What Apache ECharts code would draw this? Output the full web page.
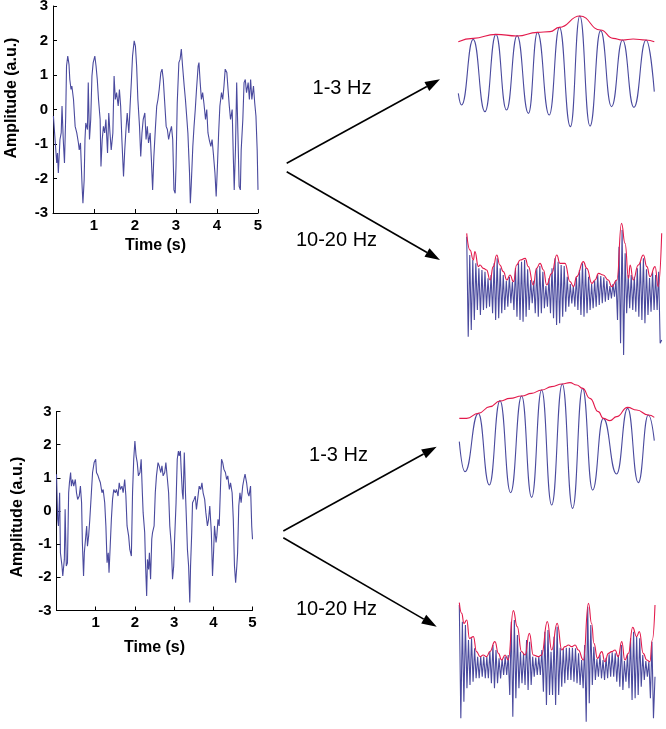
<!DOCTYPE html>
<html>
<head>
<meta charset="utf-8">
<script src="https://cdn.jsdelivr.net/npm/echarts@6/dist/echarts.min.js"></script>
<style>
html,body{margin:0;padding:0;background:#fff;}
#chart{width:666px;height:729px;}
</style>
</head>
<body>
<div id="chart"></div>
<script>
// ---------- tick labels ----------
const yTicks = [-3, -2, -1, 0, 1, 2, 3];
const xTicks = [1, 2, 3, 4, 5];
const bandLabels = ['1-3 Hz', '10-20 Hz'];

// ---------- row 1: raw signal ----------
const row1Time = [0.01,0.05,0.09,0.11,0.13,0.15,0.17,0.20,0.22,0.25,0.28,0.31,0.33,0.36,0.39,0.41,0.44,0.46,0.50,0.54,0.58,0.62,0.64,0.67,0.71,0.73,0.76,0.78,0.80,0.84,0.86,0.89,0.92,0.95,0.98,1.02,1.05,1.08,1.11,1.15,1.17,1.20,1.23,1.26,1.29,1.33,1.36,1.39,1.42,1.46,1.49,1.52,1.55,1.59,1.62,1.65,1.68,1.72,1.75,1.78,1.81,1.85,1.88,1.91,1.94,1.98,2.01,2.04,2.07,2.11,2.14,2.17,2.20,2.24,2.27,2.30,2.33,2.37,2.40,2.43,2.46,2.50,2.53,2.56,2.59,2.63,2.66,2.69,2.72,2.76,2.79,2.82,2.85,2.89,2.92,2.95,2.98,3.00,3.03,3.07,3.10,3.13,3.16,3.20,3.23,3.26,3.29,3.33,3.35,3.37,3.41,3.44,3.47,3.50,3.54,3.56,3.59,3.62,3.65,3.68,3.72,3.75,3.78,3.81,3.85,3.88,3.91,3.95,3.98,4.01,4.04,4.07,4.11,4.14,4.17,4.20,4.24,4.27,4.30,4.33,4.37,4.40,4.42,4.45,4.48,4.51,4.54,4.57,4.59,4.63,4.66,4.69,4.72,4.76,4.79,4.82,4.85,4.89,4.92,4.95,4.98,5.00];
const row1Amp = [-0.19,-0.87,-1.55,-1.26,-1.84,-1.36,-0.87,-0.68,0.10,-0.87,-1.55,-0.19,1.26,1.55,1.31,0.87,0.58,0.68,0.29,-0.49,-0.68,-0.97,-1.17,-0.97,-2.23,-2.72,-2.04,-0.87,-0.39,-0.58,0.78,-0.87,-0.29,0.97,1.36,1.55,1.26,0.87,0.29,-0.29,-1.65,-0.87,-0.49,-0.68,-0.29,-1.26,-0.10,-0.68,-1.17,-0.68,0.97,0.29,0.49,0.10,0.58,0.10,-0.87,-1.94,-1.17,-0.58,-0.10,-0.68,0.10,0.78,1.55,1.99,1.84,1.26,0.29,-0.49,-1.36,-0.68,-0.29,-0.10,-0.87,-0.49,-0.97,-0.68,-1.46,-2.33,-1.36,-0.49,0.10,0.29,0.58,1.07,1.17,0.87,0.29,-0.49,-0.58,-0.87,-0.68,-0.49,-0.87,-2.33,-2.43,-1.65,0.19,1.36,1.46,1.75,1.26,0.68,0.29,-0.19,-0.68,-1.84,-2.72,-2.23,-1.07,-0.49,0.00,0.58,1.26,1.36,0.78,0.29,0.49,0.19,-0.29,0.00,-0.68,-0.87,-1.07,-0.87,-1.26,-1.84,-2.52,-1.65,-0.68,0.10,0.49,0.29,0.68,1.17,1.07,0.58,0.10,-0.29,0.00,-1.46,-2.33,-1.17,0.78,-0.68,-2.23,-2.33,-1.17,-0.29,0.78,0.87,0.49,0.78,0.29,0.87,0.29,0.68,0.19,-0.19,-1.17,-2.33];

// ---------- row 2: raw signal ----------
const row2Time = [0.00,0.03,0.05,0.08,0.10,0.14,0.16,0.20,0.22,0.25,0.28,0.31,0.33,0.36,0.38,0.41,0.44,0.48,0.51,0.54,0.58,0.61,0.64,0.66,0.69,0.71,0.74,0.77,0.79,0.82,0.85,0.89,0.92,0.96,1.00,1.02,1.06,1.09,1.12,1.16,1.19,1.23,1.26,1.29,1.32,1.34,1.37,1.40,1.43,1.46,1.50,1.53,1.57,1.60,1.63,1.67,1.70,1.74,1.77,1.80,1.84,1.87,1.91,1.94,1.97,2.00,2.03,2.06,2.09,2.13,2.16,2.19,2.21,2.25,2.27,2.30,2.32,2.35,2.37,2.40,2.43,2.45,2.49,2.52,2.55,2.59,2.62,2.66,2.69,2.72,2.76,2.79,2.83,2.86,2.89,2.93,2.96,2.99,3.01,3.05,3.08,3.11,3.13,3.16,3.18,3.21,3.23,3.26,3.29,3.32,3.34,3.37,3.40,3.42,3.45,3.47,3.51,3.54,3.57,3.61,3.64,3.68,3.71,3.74,3.78,3.81,3.85,3.88,3.91,3.95,3.98,4.01,4.03,4.07,4.09,4.12,4.15,4.19,4.21,4.24,4.27,4.31,4.34,4.37,4.41,4.44,4.48,4.51,4.54,4.57,4.60,4.62,4.65,4.68,4.71,4.75,4.78,4.81,4.85,4.88,4.91,4.95,4.98,5.00];
const row2Amp = [1.11,-0.25,-0.45,0.55,-1.26,-1.66,-1.96,-1.46,0.05,-1.66,-1.56,0.55,0.85,1.16,0.75,0.95,0.75,0.95,0.55,0.35,0.45,0.75,0.25,-0.95,-1.96,-1.26,-0.85,-0.45,-1.06,-0.75,-0.25,0.55,1.16,1.46,1.56,1.16,1.06,0.95,0.85,0.55,0.65,0.25,-0.45,-1.56,-1.26,-1.86,-1.06,-0.25,0.35,0.65,0.55,0.65,0.45,0.85,0.65,0.75,0.55,0.95,0.45,-0.45,-0.75,-1.16,-1.36,0.55,1.56,2.11,1.66,1.46,1.06,1.16,1.56,0.55,-0.05,-0.65,-1.56,-2.56,-1.46,-1.76,-1.26,-2.06,-0.85,-0.65,-0.45,0.55,1.06,1.46,1.36,1.16,1.36,1.06,1.16,1.46,0.95,0.55,-0.45,-1.06,-2.06,-1.66,-0.95,0.25,1.56,1.81,1.66,1.81,1.26,0.55,0.35,1.76,0.55,-0.45,-1.16,-1.66,-2.76,-1.66,-0.65,0.25,0.35,0.45,0.05,0.45,0.75,0.65,0.85,0.55,0.35,-0.05,-0.45,-0.25,0.15,-0.65,-1.96,-1.16,-0.45,-0.95,-0.75,-0.25,-0.45,0.95,1.56,1.46,1.26,1.16,0.95,1.06,0.65,0.85,0.55,-0.25,-1.66,-2.16,-1.66,-1.26,0.15,0.55,0.25,0.75,0.95,1.11,0.85,0.55,0.45,0.75,-0.45,-0.85];

// ---------- row 1: 1-3 Hz band (peaks / troughs) and envelope ----------
const r1LowTime = [0,0.085,0.38,0.68,0.96,1.23,1.50,1.79,2.02,2.32,2.58,2.86,3.10,3.36,3.63,3.91,4.19,4.48,4.79,5.0];
const r1LowAmp  = [-0.65,-1.0,0.97,-1.2,1.12,-1.15,1.08,-1.25,1.18,-1.3,1.33,-1.65,1.67,-1.63,1.23,-1.05,0.95,-1.07,0.95,-0.6];
const r1LowEnvTime = [0,0.38,0.96,1.50,2.02,2.34,2.58,3.10,3.63,3.95,4.19,4.46,4.79,5.0];
const r1LowEnvAmp  = [0.9,1.0,1.12,1.07,1.18,1.2,1.33,1.67,1.25,1.0,0.95,0.98,0.95,0.9];

// ---------- row 1: 10-20 Hz band (alternating peaks / troughs) and envelope ----------
const r1HighAmp = [1.6,-1.4,1.05,-1.2,0.9,-0.9,0.8,-0.6,0.65,-0.75,0.6,-0.6,0.55,-0.55,0.35,-0.5,0.45,-0.7,0.8,-0.9,0.95,-0.85,0.65,-0.7,0.45,-0.6,0.28,-0.5,0.4,-0.4,0.25,-0.6,0.65,-0.8,0.8,-0.9,0.85,-0.95,0.9,-0.8,0.62,-0.6,0.3,-0.4,0.28,-0.7,0.65,-0.8,0.72,-0.7,0.55,-0.55,0.12,-0.5,0.35,-0.7,0.65,-0.85,0.95,-1.05,0.85,-1.0,0.75,-0.8,0.72,-0.65,0.4,-0.5,0.18,-0.4,0.13,-0.5,0.38,-0.6,0.6,-0.75,0.8,-0.8,0.65,-0.7,0.4,-0.6,0.18,-0.55,0.28,-0.5,0.45,-0.45,0.42,-0.4,0.38,-0.35,0.28,-0.3,0.12,-0.25,0.18,-0.2,0.3,-0.9,1.3,-1.6,1.8,-1.95,1.1,-0.7,0.45,-0.55,0.45,-0.6,0.4,-0.65,0.65,-0.8,0.85,-0.9,0.95,-1.0,0.62,-0.75,0.36,-0.65,0.55,-0.6,0.45,-0.6,0.55,-1.6,-1.5];
const r1HighEnvTime = [0,0.085,0.17,0.21,0.30,0.34,0.43,0.51,0.60,0.68,0.77,0.85,0.94,1.03,1.11,1.20,1.28,1.37,1.50,1.58,1.71,1.79,1.88,1.97,2.05,2.18,2.31,2.39,2.52,2.65,2.74,2.82,2.99,3.08,3.21,3.29,3.38,3.50,3.63,3.72,3.85,3.97,4.06,4.15,4.19,4.27,4.40,4.53,4.62,4.70,4.83,4.91,5.0];
const r1HighEnvAmp  = [1.7,1.2,0.9,1.15,0.7,0.75,0.65,0.6,0.3,0.7,1.05,0.75,0.55,0.3,0.45,0.25,0.75,0.9,0.95,0.7,0.15,0.65,0.8,0.6,0.15,0.5,1.05,0.8,0.8,0.25,0.1,0.4,0.85,0.65,0.2,0.3,0.5,0.45,0.3,0.1,0.3,2.0,1.4,0.35,0.75,0.3,0.75,1.05,0.7,0.4,0.7,0.1,1.7];

// ---------- row 2: 1-3 Hz band and envelope ----------
const r2LowTime = [0,0.145,0.487,0.769,1.043,1.316,1.598,1.855,2.111,2.368,2.641,2.906,3.162,3.419,3.692,4.034,4.316,4.59,4.846,5.0];
const r2LowAmp  = [0.2,-0.7,1.05,-1.1,1.43,-1.33,1.57,-1.47,1.75,-1.7,1.93,-1.8,1.8,-1.25,0.9,-0.77,1.2,-1.03,1.0,0.23];
const r2LowEnvTime = [0,0.188,0.487,0.786,1.043,1.299,1.598,1.855,2.111,2.368,2.641,2.838,3.009,3.162,3.35,3.564,3.692,3.863,4.034,4.316,4.547,4.846,5.0];
const r2LowEnvAmp  = [0.9,0.9,1.05,1.25,1.42,1.5,1.57,1.65,1.75,1.85,1.93,1.97,1.9,1.8,1.5,1.1,0.9,0.83,0.95,1.23,1.15,1.0,0.93];

// ---------- row 2: 10-20 Hz band and envelope ----------
const r2HighAmp = [1.9,-1.5,1.4,-1.0,1.3,-0.6,0.85,-0.5,0.9,-0.4,0.6,-0.3,0.35,-0.3,0.35,-0.25,0.35,-0.3,0.35,-0.3,0.5,-0.45,0.7,-0.6,0.55,-0.45,0.3,-0.3,0.28,-0.2,0.35,-0.2,0.4,-0.8,1.4,-1.45,1.45,-0.9,1.0,-0.6,0.5,-0.45,0.45,-0.5,0.85,-0.65,0.8,-0.5,0.35,-0.25,0.32,-0.2,0.35,-0.2,0.55,-0.7,1.1,-1.1,1.15,-0.8,0.5,-0.8,0.95,-1.1,1.25,-0.8,0.62,-0.55,0.6,-0.45,0.62,-0.35,0.62,-0.35,0.62,-0.4,0.6,-0.45,0.45,-0.5,0.25,-0.6,0.7,-1.6,1.85,-1.05,1.3,-0.5,0.65,-0.35,0.28,-0.25,0.4,-0.3,0.25,-0.35,0.32,-0.3,0.42,-0.25,0.48,-0.25,0.45,-0.4,0.4,-0.55,0.7,-0.65,0.22,-0.4,0.4,-0.6,0.9,-0.95,1.1,-0.9,0.95,-0.8,0.9,-0.55,0.4,-0.35,0.22,-0.25,0.2,-0.9,0.8,-1.5,-0.25];
const r2HighEnvTime = [0,0.06,0.12,0.19,0.26,0.36,0.44,0.53,0.61,0.70,0.78,0.91,1.0,1.08,1.17,1.25,1.38,1.48,1.59,1.68,1.79,1.89,2.02,2.10,2.25,2.36,2.50,2.62,2.70,2.79,2.87,2.96,3.04,3.17,3.30,3.38,3.44,3.53,3.64,3.72,3.81,3.89,3.98,4.06,4.15,4.23,4.32,4.43,4.53,4.60,4.70,4.79,4.87,4.93,5.0];
const r2HighEnvAmp  = [1.97,1.65,1.35,1.45,0.9,0.95,0.5,0.35,0.4,0.35,0.5,0.8,0.45,0.25,0.4,0.25,1.73,1.25,0.5,0.4,1.05,0.4,0.35,0.4,1.4,0.55,1.35,0.55,0.65,0.7,0.65,0.7,0.55,0.25,1.95,1.35,0.75,0.3,0.5,0.2,0.45,0.5,0.55,0.35,0.8,0.25,0.45,1.23,0.95,1.1,0.45,0.25,0.2,0.85,1.9];

// ---------- helpers ----------
const FONT = '"Liberation Sans", Arial, Helvetica, sans-serif';
const BLUE = '#4a4a9e';
const RED = '#e31a4c';
const zip = (t, v) => t.map((x, i) => [x, v[i]]);
const spread = (v) => v.map((y, i) => [i * 5 / (v.length - 1), y]);

const grids = [
  {left: 53, top: 6, width: 205, height: 207},        // 0 row1 raw
  {left: 56.5, top: 411.5, width: 196, height: 199},  // 1 row2 raw
  {left: 458.3, top: 10, width: 196, height: 125},    // 2 row1 1-3
  {left: 466.7, top: 215, width: 195, height: 145},   // 3 row1 10-20
  {left: 459.3, top: 375, width: 195, height: 140},   // 4 row2 1-3
  {left: 459.3, top: 595, width: 195.7, height: 133}  // 5 row2 10-20
].map(g => Object.assign({outerBoundsMode: 'none', containLabel: false, show: false}, g));

function rawX(gi, gap) {
  return {
    type: 'value', gridIndex: gi, min: 0, max: 5, interval: 1,
    axisLine: {show: true, onZero: false, lineStyle: {color: '#000', width: 1}},
    axisTick: {show: true, inside: true, length: 4, lineStyle: {color: '#000'}},
    splitLine: {show: false},
    axisLabel: {
      show: true, margin: 5, color: '#000', fontFamily: FONT, fontWeight: 'bold', fontSize: 15,
      formatter: v => (xTicks.indexOf(v) >= 0 ? String(v) : '')
    },
    name: 'Time (s)', nameLocation: 'middle', nameGap: gap,
    nameTextStyle: {color: '#000', fontFamily: FONT, fontWeight: 'bold', fontSize: 16}
  };
}
function rawY(gi) {
  return {
    type: 'value', gridIndex: gi, min: -3, max: 3, interval: 1,
    axisLine: {show: true, onZero: false, lineStyle: {color: '#000', width: 1}},
    axisTick: {show: true, inside: true, length: 4, lineStyle: {color: '#000'}},
    splitLine: {show: false},
    axisLabel: {
      show: true, margin: 5, color: '#000', fontFamily: FONT, fontWeight: 'bold', fontSize: 15,
      formatter: v => (yTicks.indexOf(v) >= 0 ? String(v) : '')
    }
  };
}
function hidX(gi) { return {type: 'value', gridIndex: gi, min: 0, max: 5, show: false, splitLine: {show: false}}; }
function hidY(gi, min, max) { return {type: 'value', gridIndex: gi, min: min, max: max, show: false, splitLine: {show: false}}; }

function lineSeries(i, data, color, smooth, z) {
  return {
    type: 'line', xAxisIndex: i, yAxisIndex: i, data: data, showSymbol: false, symbol: 'none',
    smooth: smooth, smoothMonotone: smooth ? 'x' : undefined,
    lineStyle: {color: color, width: 1.1}, z: z || 2, silent: true, animation: false
  };
}

function arrow(x1, y1, x2, y2) {
  const a = Math.atan2(y2 - y1, x2 - x1);
  const L = 15, W = 5;
  const bx = x2 - L * Math.cos(a), by = y2 - L * Math.sin(a);
  return [
    {type: 'line', shape: {x1: x1, y1: y1, x2: bx, y2: by}, style: {stroke: '#000', lineWidth: 1.6}},
    {type: 'polygon', shape: {points: [[x2, y2], [bx - W * Math.sin(a), by + W * Math.cos(a)], [bx + W * Math.sin(a), by - W * Math.cos(a)]]}, style: {fill: '#000'}}
  ];
}
function label(text, x, y) {
  return {type: 'text', x: x, y: y, style: {text: text, fill: '#000', font: '20px ' + FONT, align: 'center', verticalAlign: 'middle'}};
}
function yName(x, y) {
  return {type: 'text', x: x, y: y, rotation: Math.PI / 2,
    style: {text: 'Amplitude (a.u.)', fill: '#000', font: 'bold 16px ' + FONT, align: 'center', verticalAlign: 'middle'}};
}

const graphic = []
  .concat(arrow(286.7, 163.3, 440, 79.3))
  .concat(arrow(286.7, 171.7, 440, 260))
  .concat(arrow(283.3, 531, 436.7, 446.7))
  .concat(arrow(283.3, 537.7, 436.7, 626.7))
  .concat([
    label(bandLabels[0], 342, 88), label(bandLabels[1], 336.5, 240),
    label(bandLabels[0], 338.5, 455), label(bandLabels[1], 336.5, 609),
    yName(12, 98), yName(17.5, 517)
  ]);

const option = {
  animation: false,
  backgroundColor: '#fff',
  grid: grids,
  xAxis: [rawX(0, 25), rawX(1, 29), hidX(2), hidX(3), hidX(4), hidX(5)],
  yAxis: [rawY(0), rawY(1), hidY(2, -1.9, 1.85), hidY(3, -2.1, 2.25), hidY(4, -2.0, 2.2), hidY(5, -1.79, 2.2)],
  series: [
    lineSeries(0, zip(row1Time, row1Amp), BLUE, false),
    lineSeries(1, zip(row2Time, row2Amp), BLUE, false),
    lineSeries(2, zip(r1LowTime, r1LowAmp), BLUE, true),
    lineSeries(2, zip(r1LowEnvTime, r1LowEnvAmp), RED, true, 3),
    lineSeries(3, spread(r1HighAmp), BLUE, false),
    lineSeries(3, zip(r1HighEnvTime, r1HighEnvAmp), RED, true, 3),
    lineSeries(4, zip(r2LowTime, r2LowAmp), BLUE, true),
    lineSeries(4, zip(r2LowEnvTime, r2LowEnvAmp), RED, true, 3),
    lineSeries(5, spread(r2HighAmp), BLUE, false),
    lineSeries(5, zip(r2HighEnvTime, r2HighEnvAmp), RED, true, 3)
  ],
  graphic: graphic
};

const chart = echarts.init(document.getElementById('chart'), null, {renderer: 'canvas'});
chart.setOption(option);
</script>
</body>
</html>
